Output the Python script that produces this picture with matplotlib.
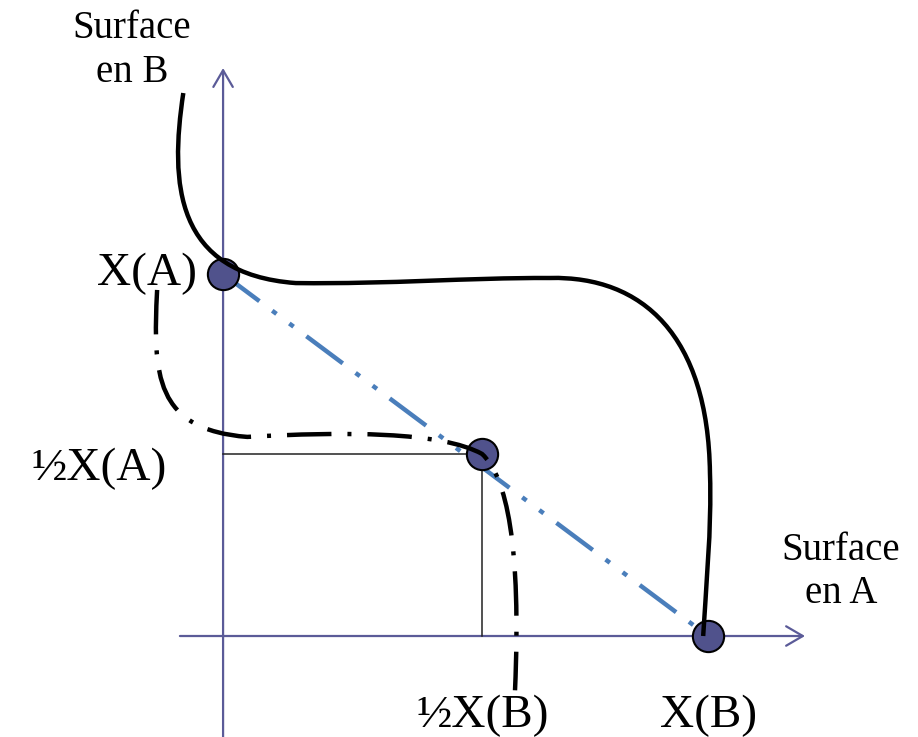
import matplotlib
matplotlib.use("Agg")
import matplotlib.pyplot as plt
from matplotlib.path import Path
from matplotlib.patches import PathPatch

# schematic units: X(B) = 1 on the A axis, X(A) = 1 on the B axis
x_lim = (-0.460, 1.433)
y_lim = (-0.279, 1.757)

point_u = [0.0, 0.534, 1.0]      # X(A), milieu, X(B)
point_v = [1.0, 0.503, 0.0]

# solid curve, cubic bezier control points
solid_u = [-0.082, -0.110, -0.100, 0.150, 0.350, 0.500, 0.674, 0.865, 1.000, 1.004, 1.008, 0.995, 0.990]
solid_v = [1.500, 1.250, 1.000, 0.975, 0.972, 0.990, 0.989, 0.995, 0.830, 0.450, 0.300, 0.120, 0.000]

# dash-dot curve, cubic bezier control points
dashed_u = [-0.136, -0.145, -0.140, 0.050, 0.250, 0.450, 0.534, 0.585, 0.615, 0.602]
dashed_v = [0.956, 0.720, 0.570, 0.550, 0.565, 0.565, 0.503, 0.440, 0.250, -0.150]

labels = ["X(A)", "\u00bdX(A)", "\u00bdX(B)", "X(B)"]
label_u = [-0.054, -0.116, 0.535, 1.002]
label_v = [0.970, 0.431, -0.251, -0.251]
label_ha = ["right", "right", "center", "center"]

axis_b = ["Surface", "en B"]
axis_b_u = -0.188
axis_b_v = [1.652, 1.530]
axis_a = ["Surface", "en A"]
axis_a_u = 1.274
axis_a_v = [0.210, 0.091]

axis_col = "#5b5b98"
dot_col = "#50528c"
blue = "#4a7ebb"
serif = ["Liberation Serif", "DejaVu Serif"]

fig = plt.figure(figsize=(9.18, 7.37), dpi=100)
ax = fig.add_axes([0, 0, 1, 1])
ax.set_xlim(*x_lim)
ax.set_ylim(*y_lim)
ax.axis("off")

# axes with open arrow heads
arrow = dict(arrowstyle="->,head_length=1.2,head_width=0.7", lw=1.6,
             color=axis_col, shrinkA=0, shrinkB=0)
ax.annotate("", xy=(1.2, 0), xytext=(-0.089, 0), arrowprops=arrow, zorder=1)
ax.annotate("", xy=(0, 1.569), xytext=(0, y_lim[0]), arrowprops=arrow, zorder=1)

# guide lines to the middle point
ax.plot([0, point_u[1]], [point_v[1], point_v[1]], color="#222222", lw=1.1, zorder=2)
ax.plot([point_u[1], point_u[1]], [0, point_v[1]], color="#222222", lw=1.1, zorder=2)

# straight line X(A) - X(B)
ax.plot([point_u[0], point_u[2]], [point_v[0], point_v[2]], color=blue, lw=3.2,
        linestyle=(0, (10.2, 3.6, 1.2, 3.6, 1.2, 3.6)), zorder=3)

ax.plot(point_u, point_v, "o", ms=22.5, mfc=dot_col, mec="black", mew=1.5, zorder=4)


def bezier(us, vs):
    verts = list(zip(us, vs))
    codes = [Path.MOVETO] + [Path.CURVE4] * (len(verts) - 1)
    return Path(verts, codes)


ax.add_patch(PathPatch(bezier(solid_u, solid_v), fill=False, lw=3.2,
                       edgecolor="black", zorder=5))
ax.add_patch(PathPatch(bezier(dashed_u, dashed_v), fill=False, lw=3.2,
                       edgecolor="black", linestyle=(0, (10, 3.6, 0.9, 3.6)), zorder=5))

for txt, u, v, ha in zip(labels, label_u, label_v, label_ha):
    ax.text(u, v, txt, ha=ha, va="baseline", fontsize=34, family=serif)

for txt, v in zip(axis_b, axis_b_v):
    ax.text(axis_b_u, v, txt, ha="center", va="baseline", fontsize=28, family=serif)
for txt, v in zip(axis_a, axis_a_v):
    ax.text(axis_a_u, v, txt, ha="center", va="baseline", fontsize=28, family=serif)

fig.savefig("out.png", dpi=100)
